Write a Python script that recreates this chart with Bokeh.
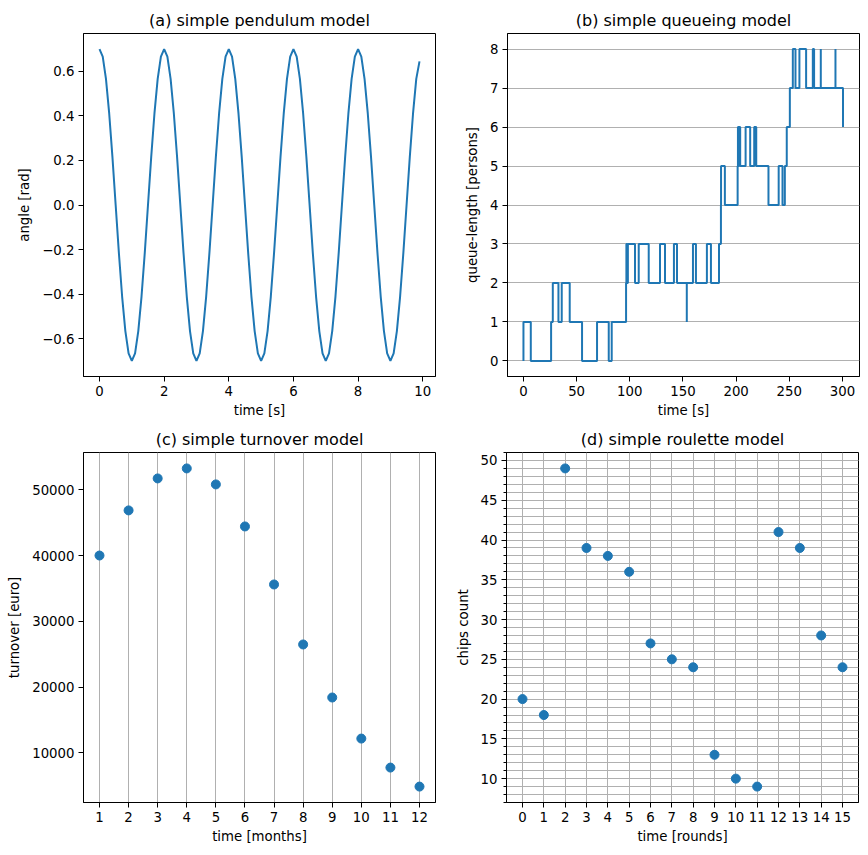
from bokeh.plotting import figure
from bokeh.layouts import column, row
from bokeh.models import Range1d, FixedTicker
from bokeh.embed import file_html
from bokeh.resources import INLINE

# ---------------- data ----------------
# (a) pendulum: angle sampled every 0.1 s
pend_time = [round(i * 0.1, 1) for i in range(100)]
pend_angle = [
    0.700, 0.666, 0.566, 0.411, 0.216, 0.000, -0.216, -0.411, -0.566, -0.666,
    -0.700, -0.666, -0.566, -0.411, -0.216, 0.000, 0.216, 0.411, 0.566, 0.666,
    0.700, 0.666, 0.566, 0.411, 0.216, 0.000, -0.216, -0.411, -0.566, -0.666,
    -0.700, -0.666, -0.566, -0.411, -0.216, 0.000, 0.216, 0.411, 0.566, 0.666,
    0.700, 0.666, 0.566, 0.411, 0.216, 0.000, -0.216, -0.411, -0.566, -0.666,
    -0.700, -0.666, -0.566, -0.411, -0.216, 0.000, 0.216, 0.411, 0.566, 0.666,
    0.700, 0.666, 0.566, 0.411, 0.216, 0.000, -0.216, -0.411, -0.566, -0.666,
    -0.700, -0.666, -0.566, -0.411, -0.216, 0.000, 0.216, 0.411, 0.566, 0.666,
    0.700, 0.666, 0.566, 0.411, 0.216, 0.000, -0.216, -0.411, -0.566, -0.666,
    -0.700, -0.666, -0.566, -0.411, -0.216, 0.000, 0.216, 0.411, 0.566, 0.645,
]
pend_xticks = [0, 2, 4, 6, 8, 10]
pend_yticks = [-0.6, -0.4, -0.2, 0.0, 0.2, 0.4, 0.6]
pend_ylabels = ["\u22120.6", "\u22120.4", "\u22120.2", "0.0", "0.2", "0.4", "0.6"]

# (b) queue: event times [s] and queue length after each event
queue_time = [
    0, 0, 6.9, 26.0, 27.6, 32.9, 36.0, 43.5, 55.1, 69.2, 80.2, 83.0,
    96.5, 96.8, 97.6, 98.2, 104.9, 108.4, 117.8, 128.4, 133.1, 141.5, 144.4,
    153.6, 153.6, 159.4, 162.2, 172.5, 176.3, 183.9, 185.7, 185.8, 189.4,
    201.4, 201.7, 202.4, 202.8, 203.8, 208.9, 213.2, 217.0, 218.9, 230.4,
    240.0, 243.6, 245.8, 247.6, 250.5, 253.3, 255.8, 259.5, 265.8, 272.1,
    273.3, 279.6, 279.6, 293.4, 293.4, 300.5,
]
queue_len = [
    0, 1, 0, 1, 2, 1, 2, 1, 0, 1, 0, 1,
    2, 3, 2, 3, 2, 3, 2, 3, 2, 3, 2,
    1, 2, 3, 2, 3, 2, 3, 4, 5, 4,
    5, 6, 5, 6, 5, 6, 5, 6, 5, 4,
    5, 4, 5, 6, 7, 8, 7, 8, 7, 8,
    7, 8, 7, 8, 7, 6,
]
queue_xticks = [0, 50, 100, 150, 200, 250, 300]
queue_yticks = [0, 1, 2, 3, 4, 5, 6, 7, 8]

# (c) turnover per month
months = [1, 2, 3, 4, 5, 6, 7, 8, 9, 10, 11, 12]
turnover = [40000, 46860, 51720, 53240, 50810, 44420, 35600, 26480, 18420, 12180, 7770, 4880]
turnover_yticks = [10000, 20000, 30000, 40000, 50000]

# (d) roulette chips per round
rounds = [0, 1, 2, 3, 4, 5, 6, 7, 8, 9, 10, 11, 12, 13, 14, 15]
chips = [20, 18, 49, 39, 38, 36, 27, 25, 24, 13, 10, 9, 41, 39, 28, 24]
chips_yticks = [10, 15, 20, 25, 30, 35, 40, 45, 50]
chips_yminor = list(range(7, 52))

BLUE = "#1f77b4"
GRID = "#b0b0b0"
FONT = "DejaVu Sans"


def make_fig(title, xr, yr, w, h, bl, br, bt, bb):
    p = figure(width=w, height=h, output_backend="svg", toolbar_location=None,
               x_range=Range1d(*xr), y_range=Range1d(*yr),
               min_border_left=bl, min_border_right=br,
               min_border_top=bt, min_border_bottom=bb)
    p.title.text = title
    p.title.text_font = FONT
    p.title.text_font_size = "16px"
    p.title.text_font_style = "normal"
    p.title.align = "center"
    p.title.text_color = "black"
    p.title.standoff = 7
    p.outline_line_color = "black"
    p.outline_line_alpha = 1
    p.outline_line_width = 1
    for ax in (p.xaxis, p.yaxis):
        ax.axis_line_color = "black"
        ax.major_tick_line_color = "black"
        ax.major_tick_out = 5
        ax.major_tick_in = 0
        ax.minor_tick_line_color = None
        ax.major_label_text_font = FONT
        ax.major_label_text_font_size = "13.3px"
        ax.major_label_text_color = "black"
        ax.axis_label_text_font = FONT
        ax.axis_label_text_font_size = "13.3px"
        ax.axis_label_text_font_style = "normal"
        ax.axis_label_text_color = "black"
        ax.major_label_standoff = 4
    p.xaxis.axis_label_standoff = 4
    p.yaxis.axis_label_standoff = 7
    p.xgrid.grid_line_color = None
    p.ygrid.grid_line_color = None
    p.background_fill_color = "white"
    p.border_fill_color = "white"
    return p


def set_ticks(axis, ticks, labels=None, minor=None):
    axis.ticker = FixedTicker(ticks=ticks, minor_ticks=minor or [])
    if labels is None:
        labels = [str(t) for t in ticks]
    axis.major_label_overrides = {t: l for t, l in zip(ticks, labels)}


# (a)
pa = make_fig("(a) simple pendulum model", (-0.495, 10.395), (-0.77, 0.77),
              440, 420, 83, 5, 33, 38)
pa.line(pend_time, pend_angle, line_color=BLUE, line_width=2)
set_ticks(pa.xaxis, pend_xticks)
set_ticks(pa.yaxis, pend_yticks, pend_ylabels)
pa.xaxis.axis_label = "time [s]"
pa.yaxis.axis_label = "angle [rad]"

# (b)
pb = make_fig("(b) simple queueing model", (-15.0, 316.0), (-0.4, 8.4),
              428, 420, 67, 9, 33, 38)
pb.step(queue_time, queue_len, mode="after", line_color=BLUE, line_width=2)
set_ticks(pb.xaxis, queue_xticks)
set_ticks(pb.yaxis, queue_yticks)
pb.ygrid.ticker = FixedTicker(ticks=queue_yticks)
pb.ygrid.grid_line_color = GRID
pb.ygrid.grid_line_width = 1
pb.xaxis.axis_label = "time [s]"
pb.yaxis.axis_label = "queue-length [persons]"

# (c)
pc = make_fig("(c) simple turnover model", (0.45, 12.55), (2462, 55660),
              440, 435, 83, 5, 32, 53)
pc.scatter(months, turnover, size=9, fill_color=BLUE, line_color=BLUE)
set_ticks(pc.xaxis, months)
set_ticks(pc.yaxis, turnover_yticks)
pc.xgrid.ticker = FixedTicker(ticks=months)
pc.xgrid.grid_line_color = GRID
pc.xgrid.grid_line_width = 1
pc.xaxis.axis_label = "time [months]"
pc.yaxis.axis_label = "turnover [euro]"

# (d)
pd_ = make_fig("(d) simple roulette model", (-0.75, 15.75), (7.0, 51.0),
               428, 435, 66, 10, 32, 53)
pd_.scatter(rounds, chips, size=9, fill_color=BLUE, line_color=BLUE)
set_ticks(pd_.xaxis, rounds)
set_ticks(pd_.yaxis, chips_yticks, minor=chips_yminor)
pd_.yaxis.minor_tick_line_color = "black"
pd_.yaxis.minor_tick_out = 3
pd_.yaxis.minor_tick_in = 0
pd_.xgrid.ticker = FixedTicker(ticks=rounds)
pd_.xgrid.grid_line_color = GRID
pd_.xgrid.grid_line_width = 1
pd_.ygrid.ticker = FixedTicker(ticks=chips_yticks, minor_ticks=chips_yminor)
pd_.ygrid.grid_line_color = GRID
pd_.ygrid.grid_line_width = 1
pd_.ygrid.minor_grid_line_color = GRID
pd_.ygrid.minor_grid_line_width = 1
pd_.xaxis.axis_label = "time [rounds]"
pd_.yaxis.axis_label = "chips count"

layout = column(row(pa, pb, spacing=0), row(pc, pd_, spacing=0), spacing=0)

with open("out.html", "w") as f:
    f.write(file_html(layout, INLINE))
